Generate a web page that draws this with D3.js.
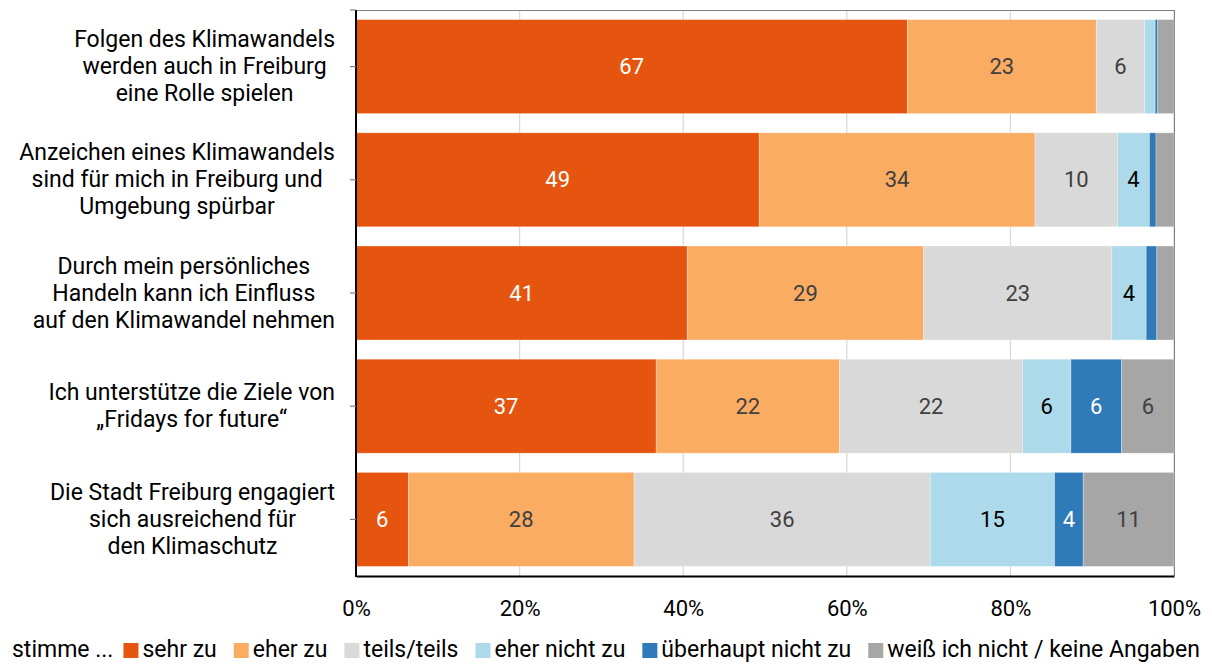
<!DOCTYPE html>
<html><head><meta charset="utf-8">
<script src="https://cdn.jsdelivr.net/npm/d3@7"></script>
<style>body{margin:0;background:#fff;} text{font-family:Roboto,"Open Sans",sans-serif;}</style>
</head><body>
<svg id="c" width="1212" height="664"></svg>
<script>
const categories = [
  ["Folgen des Klimawandels","werden auch in Freiburg","eine Rolle spielen"],
  ["Anzeichen eines Klimawandels","sind für mich in Freiburg und","Umgebung spürbar"],
  ["Durch mein persönliches","Handeln kann ich Einfluss","auf den Klimawandel nehmen"],
  ["Ich unterstütze die Ziele von","„Fridays for future“"],
  ["Die Stadt Freiburg engagiert","sich ausreichend für","den Klimaschutz"]
];
const seriesNames = ["sehr zu","eher zu","teils/teils","eher nicht zu","überhaupt nicht zu","weiß ich nicht / keine Angaben"];
const sehrZu      = [67.4, 49.3, 40.5, 36.7, 6.4];
const eherZu      = [23.1, 33.7, 28.9, 22.4, 27.6];
const teilsTeils  = [5.9, 10.1, 23.0, 22.4, 36.2];
const eherNicht   = [1.3, 3.9, 4.2, 5.9, 15.2];
const ueberhaupt  = [0.3, 0.8, 1.3, 6.2, 3.5];
const weissNicht  = [2.0, 2.2, 2.1, 6.4, 11.1];
const xTicks = [0, 20, 40, 60, 80, 100];
const legendPrefix = "stimme ...";

const seriesValues = [sehrZu, eherZu, teilsTeils, eherNicht, ueberhaupt, weissNicht];
const colors = ["#E5550F","#FBAC63","#D9D9D9","#ADDAEA","#2F7AB8","#A6A6A6"];
const labelColors = ["#ffffff","#404040","#404040","#000000","#ffffff","#404040"];
const FS = 23, FSV = 22, FSL = 23;

const svg = d3.select("#c");
const L = 356, R = 1174, T = 10, B = 576;
const x = d3.scaleLinear().domain([0,100]).range([L,R]).clamp(true);
const y = d3.scaleBand().domain(d3.range(categories.length)).range([T,B]).paddingInner(0.17).paddingOuter(0.085);

// gridlines
svg.append("g").selectAll("line").data(xTicks.slice(1)).join("line")
  .attr("x1", d=>x(d)).attr("x2", d=>x(d)).attr("y1", T).attr("y2", B)
  .attr("stroke","#d9d9d9").attr("stroke-width",1.3);
// top & right border
svg.append("line").attr("x1",L).attr("x2",R).attr("y1",T+0.5).attr("y2",T+0.5).attr("stroke","#7f7f7f").attr("stroke-width",1);
svg.append("line").attr("x1",R+0.5).attr("x2",R+0.5).attr("y1",T).attr("y2",B).attr("stroke","#7f7f7f").attr("stroke-width",1);

// stacked data
const rows = categories.map((c,i)=>{
  let acc = 0;
  return seriesValues.map((s,k)=>{ const v=s[i]; const o={i,k,x0:acc,x1:acc+v,v}; acc+=v; return o; });
});
const segs = rows.flat();
svg.append("g").selectAll("rect").data(segs).join("rect")
  .attr("x", d=>x(d.x0)).attr("width", d=>x(d.x1)-x(d.x0))
  .attr("y", d=>y(d.i)).attr("height", y.bandwidth())
  .attr("fill", d=>colors[d.k]).attr("stroke","#ffffff").attr("stroke-opacity",0.35).attr("stroke-width",0.8);
svg.append("g").selectAll("text").data(segs.filter(d=>d.v>=3)).join("text")
  .attr("x", d=>(x(d.x0)+x(d.x1))/2).attr("y", d=>y(d.i)+y.bandwidth()/2)
  .attr("text-anchor","middle").attr("dominant-baseline","central")
  .attr("font-size",FSV).attr("fill", d=>labelColors[d.k])
  .text(d=>Math.round(d.v));

// axes
const xAxis = d3.axisBottom(x).tickValues(xTicks).tickFormat(d=>d+"%").tickSize(0).tickPadding(24);
const gx = svg.append("g").attr("transform",`translate(0,${B})`).call(xAxis);
gx.select(".domain").attr("stroke","#000").attr("stroke-width",2);
gx.selectAll("text").attr("font-size",FSV).attr("fill","#000").style("font-family",'Roboto,"Open Sans",sans-serif');

// left axis line & ticks
svg.append("line").attr("x1",L).attr("x2",L).attr("y1",T).attr("y2",B+1).attr("stroke","#000").attr("stroke-width",2);
const tickYs = [T].concat(d3.range(categories.length).map(i=>y(i)+y.bandwidth()/2));
svg.append("g").selectAll("line").data(tickYs).join("line")
  .attr("x1",L-6).attr("x2",L).attr("y1",d=>d).attr("y2",d=>d).attr("stroke","#7f7f7f").attr("stroke-width",1.2);

// category labels (one text element per category, lines as tspans)
const lh = 27;
categories.forEach((lines,i)=>{
  const cy = y(i)+y.bandwidth()/2;
  const t = svg.append("text").attr("font-size",FS).attr("fill","#000").attr("text-anchor","middle");
  const spans = t.selectAll("tspan").data(lines).join("tspan")
    .attr("dominant-baseline","central")
    .attr("y",(d,j)=>cy + (j-(lines.length-1)/2)*lh).text(d=>d);
  let maxW = 0; spans.each(function(){maxW=Math.max(maxW,this.getComputedTextLength());});
  spans.attr("x", L-21-maxW/2);
});

// legend
const lg = svg.append("g").attr("transform","translate(12,649)");
let lx = 0;
const pre = lg.append("text").attr("x",0).attr("y",0).attr("dominant-baseline","central").attr("font-size",FSL).text(legendPrefix);
lx = pre.node().getComputedTextLength()+10;
seriesNames.forEach((n,k)=>{
  lg.append("rect").attr("x",lx).attr("y",-6).attr("width",15).attr("height",15).attr("fill",colors[k]);
  const t = lg.append("text").attr("x",lx+19).attr("y",0).attr("dominant-baseline","central").attr("font-size",FSL).text(n);
  lx += 19 + t.node().getComputedTextLength() + 17;
});
</script>
</body></html>
